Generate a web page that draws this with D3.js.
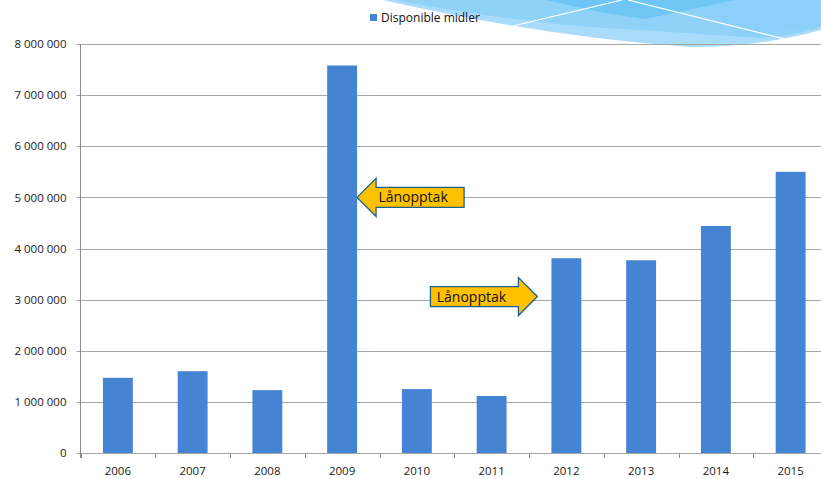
<!DOCTYPE html>
<html>
<head>
<meta charset="utf-8">
<script src="https://cdn.jsdelivr.net/npm/d3@7"></script>
<style>
  body { margin: 0; background: #fff; }
  svg { display: block; }
  .tick text { font-family: "Open Sans", sans-serif; font-size: 11.5px; fill: #1a1a1a; }
</style>
</head>
<body>
<div id="chart"></div>
<script>
// data
var years = ["2006", "2007", "2008", "2009", "2010", "2011", "2012", "2013", "2014", "2015"];
var midler = [1470000, 1600000, 1230000, 7580000, 1250000, 1115000, 3810000, 3770000, 4440000, 5500000];
var yTicks = [0, 1000000, 2000000, 3000000, 4000000, 5000000, 6000000, 7000000, 8000000];
var seriesName = "Disponible midler";
// annotations: which bar, which side, at what value
var notes = [
    { label: "Lånopptak", year: "2009", side: "left", value: 5000000 },
    { label: "Lånopptak", year: "2012", side: "right", value: 3060000 }
];

var svgWidth = 821, svgHeight = 479;
var margin = { top: 44, left: 80.5, bottom: 26 };

var svg = d3.select("#chart").append("svg")
    .attr("width", svgWidth)
    .attr("height", svgHeight);

// decorative swoosh top right
var deco = svg.append("g");
deco.append("path").attr("fill", "#a9dcfa")
    .attr("d", "M383,0 Q540,36 690,47 Q760,47 821,30 L821,0 Z");
deco.append("path").attr("fill", "#8ed2f8")
    .attr("d", "M395,0 Q520,24 640,30 L760,38 Q795,36 821,27 L821,0 Z");
deco.append("path").attr("fill", "#8ad0f8")
    .attr("d", "M700,0 L740,36 L821,26 L821,0 Z");
deco.append("path").attr("fill", "#6fc6f5")
    .attr("d", "M545,0 L600,12 L645,19 L735,0 Z");
deco.append("line").attr("x1", 513).attr("y1", 26).attr("x2", 622).attr("y2", 0)
    .attr("stroke", "#fff").attr("stroke-width", 1.2);
deco.append("line").attr("x1", 628).attr("y1", 0).attr("x2", 785).attr("y2", 39)
    .attr("stroke", "#fff").attr("stroke-width", 1.2);

var x = d3.scaleBand()
    .domain(years)
    .range([margin.left, 828])
    .paddingInner(0.6)
    .paddingOuter(0.3);

var y = d3.scaleLinear()
    .domain([0, 8000000])
    .range([svgHeight - margin.bottom, margin.top]);

var fmt = d3.formatLocale({ decimal: ",", thousands: " ", grouping: [3], currency: ["", " kr"] }).format(",d");

// gridlines
svg.append("g").selectAll("line")
    .data(yTicks)
    .enter()
    .append("line")
    .attr("x1", margin.left - 4)
    .attr("x2", svgWidth)
    .attr("y1", d => Math.round(y(d)) + 0.5)
    .attr("y2", d => Math.round(y(d)) + 0.5)
    .attr("stroke", "#a6a6a6")
    .attr("stroke-width", 1);

// y axis labels
var yAxis = d3.axisLeft(y).tickValues(yTicks).tickFormat(fmt).tickSize(0).tickPadding(14);
var yG = svg.append("g")
    .attr("transform", `translate(${margin.left},0)`)
    .call(yAxis);
yG.select(".domain").remove();
svg.append("line")
    .attr("x1", margin.left).attr("x2", margin.left)
    .attr("y1", y(8000000)).attr("y2", y(0) + 5)
    .attr("stroke", "#8c8c8c");

// x axis labels
var xAxis = d3.axisBottom(x).tickSize(0).tickPadding(14);
var xG = svg.append("g")
    .attr("transform", `translate(0,${y(0)})`)
    .call(xAxis);
xG.select(".domain").remove();

// category boundary ticks
svg.append("g").selectAll("line")
    .data(years)
    .enter()
    .append("line")
    .attr("x1", d => Math.round(x(d) - x.step() * 0.3) + 0.5)
    .attr("x2", d => Math.round(x(d) - x.step() * 0.3) + 0.5)
    .attr("y1", y(0))
    .attr("y2", y(0) + 5)
    .attr("stroke", "#8c8c8c");

// bars
svg.append("g").selectAll("rect")
    .data(midler)
    .enter()
    .append("rect")
    .attr("x", (d, i) => x(years[i]))
    .attr("width", x.bandwidth())
    .attr("y", d => y(d))
    .attr("height", d => y(0) - y(d))
    .attr("fill", "#4584d3");

// legend
var legend = svg.append("g").attr("transform", "translate(370,14)");
legend.append("rect").attr("width", 7).attr("height", 7).attr("fill", "#4584d3");
legend.append("text")
    .attr("x", 11).attr("y", 7.5)
    .attr("font-family", "Open Sans, sans-serif")
    .attr("font-size", 12)
    .attr("fill", "#111")
    .text(seriesName);

// arrow annotations
notes.forEach(function (n) {
    var headLen = 19, headH = 19, bodyH = 10, bodyLen = 88;
    var ty = y(n.value);
    var dir, tx;
    if (n.side === "left") {
        tx = x(n.year) + x.bandwidth();
        dir = 1;   // arrow points left, body extends right
    } else {
        tx = x(n.year) - 14;
        dir = -1;  // arrow points right, body extends left
    }
    var pts = [
        [tx, ty],
        [tx + dir * headLen, ty - headH],
        [tx + dir * headLen, ty - bodyH],
        [tx + dir * (headLen + bodyLen), ty - bodyH],
        [tx + dir * (headLen + bodyLen), ty + bodyH],
        [tx + dir * headLen, ty + bodyH],
        [tx + dir * headLen, ty + headH]
    ];
    svg.append("path")
        .attr("d", d3.line()(pts) + "Z")
        .attr("fill", "#ffc000")
        .attr("stroke", "#1f5f8e")
        .attr("stroke-width", 1.3);
    var cx = n.side === "left" ? tx + headLen + bodyLen / 2 - 7 : tx - headLen - bodyLen / 2 - 3;
    svg.append("text")
        .attr("x", cx)
        .attr("y", ty + 5)
        .attr("text-anchor", "middle")
        .attr("font-family", "Open Sans, sans-serif")
        .attr("font-size", 14)
        .attr("fill", "#111")
        .text(n.label);
});
</script>
</body>
</html>
